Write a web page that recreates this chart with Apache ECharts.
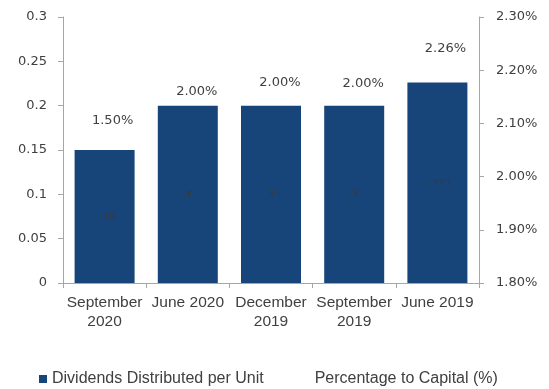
<!DOCTYPE html>
<html>
<head>
<meta charset="utf-8">
<script src="https://cdn.jsdelivr.net/npm/echarts@6/dist/echarts.min.js"></script>
<style>
html,body{margin:0;padding:0;background:#fff;}
#chart{width:549px;height:389px;}
</style>
</head>
<body>
<div id="chart"></div>
<script>
const categories = ['September\n2020', 'June 2020', 'December\n2019', 'September\n2019', 'June 2019'];
const dividends = [0.15, 0.2, 0.2, 0.2, 0.226];
const dividendLabels = ['٠.١٥', '٠.٢٠', '٠.٢٠', '٠.٢٠', '٠.٢٢٦'];
const percentages = [1.5, 2.0, 2.0, 2.0, 2.26];
const seriesNames = ['Dividends Distributed per Unit', 'Percentage to Capital (%)'];

// label placement (style only)
const pctOffsets = [[8, -322], [9, -85], [9, -94], [9, -93], [8, 10]];

const TXT = '#404040';
const AX = '#a6a6a6';
const tickFont = 'DejaVu Sans';

const chart = echarts.init(document.getElementById('chart'), null, {renderer: 'canvas'});
chart.setOption({
  animation: false,
  backgroundColor: '#fff',
  grid: {left: 63, right: 70, top: 17, bottom: 106, containLabel: false, outerBoundsMode: 'none'},
  legend: {
    left: 39, top: 371, padding: 0,
    itemWidth: 8, itemHeight: 8, itemGap: 38,
    icon: 'rect',
    textStyle: {fontFamily: 'Liberation Sans', fontSize: 16, color: TXT},
    data: [
      {name: seriesNames[0]},
      {name: seriesNames[1], itemStyle: {opacity: 0}, lineStyle: {opacity: 0}}
    ]
  },
  xAxis: {
    type: 'category',
    data: categories,
    axisLine: {lineStyle: {color: AX}},
    axisTick: {show: true, length: 5, lineStyle: {color: AX}},
    axisLabel: {
      interval: 0, margin: 10,
      fontFamily: 'Liberation Sans', fontSize: 15.5, lineHeight: 19, color: TXT
    }
  },
  yAxis: [
    {
      type: 'value', min: 0, max: 0.3, interval: 0.05,
      splitLine: {show: false},
      axisLine: {show: true, lineStyle: {color: AX}},
      axisTick: {show: true, length: 5, lineStyle: {color: AX}},
      axisLabel: {margin: 16, fontFamily: tickFont, fontSize: 13, color: TXT}
    },
    {
      type: 'value', min: 1.8, max: 2.3, interval: 0.1,
      splitLine: {show: false},
      axisLine: {show: true, lineStyle: {color: AX}},
      axisTick: {show: true, length: 5, lineStyle: {color: AX}},
      axisLabel: {
        margin: 17, fontFamily: tickFont, fontSize: 13, color: TXT,
        formatter: v => v.toFixed(2) + '%'
      }
    }
  ],
  series: [
    {
      name: seriesNames[0],
      type: 'bar',
      yAxisIndex: 0,
      barWidth: 60,
      data: dividends,
      itemStyle: {color: '#17457A'},
      label: {
        show: true, position: 'inside',
        formatter: p => dividendLabels[p.dataIndex],
        color: '#3a3a3a', fontFamily: 'DejaVu Sans', fontSize: 11,
        textBorderWidth: 0
      }
    },
    {
      name: seriesNames[1],
      type: 'line',
      yAxisIndex: 1,
      clip: false,
      symbol: 'circle',
      symbolSize: 1,
      itemStyle: {color: 'rgba(0,0,0,0)'},
      lineStyle: {width: 0, opacity: 0},
      data: percentages.map((v, i) => ({value: v, label: {offset: pctOffsets[i]}})),
      label: {
        show: true, position: 'inside',
        formatter: p => p.value.toFixed(2) + '%',
        color: TXT, fontFamily: tickFont, fontSize: 13,
        textBorderWidth: 0
      }
    }
  ]
});
</script>
</body>
</html>
